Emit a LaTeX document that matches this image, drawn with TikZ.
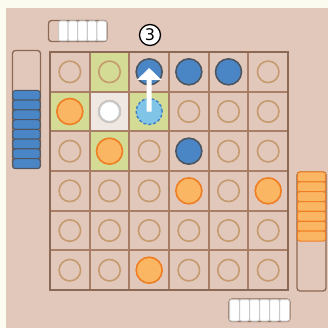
\documentclass[tikz,border=0pt]{standalone}
\usepackage{fontspec}
\usetikzlibrary{arrows.meta}
\definecolor{cream}{HTML}{FBFBEF}
\definecolor{panel}{HTML}{E2C8BB}
\definecolor{gridln}{HTML}{A97E67}
\definecolor{frame}{HTML}{8C6954}
\definecolor{ring}{HTML}{C49A6E}
\definecolor{moss}{HTML}{D3DB94}
\definecolor{pale}{HTML}{EFE8E2}
\definecolor{bluep}{HTML}{4A86C6}
\definecolor{slate}{HTML}{4D5560}
\definecolor{orangep}{HTML}{FBB664}
\definecolor{ember}{HTML}{EF7E22}
\definecolor{skyp}{HTML}{80C4E8}
\definecolor{skyln}{HTML}{3D80C8}
\definecolor{silver}{HTML}{C8C8C8}
\newfontfamily\labelfont{DejaVu Sans}

\begin{document}
\begin{tikzpicture}[x=1pt, y=-1pt,
  hole/.style={circle, draw=ring, line width=1.6pt, minimum size=21.5pt, inner sep=0pt},
  bluedisc/.style={circle, fill=bluep, draw=slate, line width=1.6pt, minimum size=26pt, inner sep=0pt},
  orangedisc/.style={circle, fill=orangep, draw=ember, line width=1.6pt, minimum size=26pt, inner sep=0pt},
  ghostdisc/.style={circle, fill=skyp, draw=skyln, line width=1.4pt, dash pattern=on 3pt off 2pt, minimum size=26pt, inner sep=0pt},
  whitedisc/.style={circle, fill=white, draw=silver, line width=2pt, minimum size=21pt, inner sep=0pt},
  tray/.style={draw=frame, line width=1.3pt, rounded corners=3pt, fill=panel},
  bluebar/.style={draw=slate, fill=bluep, line width=1pt, rounded corners=2.5pt},
  orangebar/.style={draw=ember, fill=orangep, line width=1pt, rounded corners=2.5pt},
  whitebar/.style={draw=silver, fill=white, line width=1pt, rounded corners=2pt}]
  % backdrop
  \fill[cream] (0,0) rectangle (328,328);
  \fill[panel] (6,8) rectangle (328,328);
  % cell centres
  \foreach \r in {0,...,5}
    \foreach \c in {0,...,5}
      \coordinate (c\r\c) at ({50+39.67*(\c+0.5)},{52+39.67*(\r+0.5)});
  % highlighted cells
  \foreach \cell in {c01,c10,c12,c21}
    \fill[moss] (\cell) +(-19.83,-19.83) rectangle +(19.83,19.83);
  \fill[pale] (c11) +(-19.83,-19.83) rectangle +(19.83,19.83);
  % board lines
  \foreach \i in {1,...,5} {
    \draw[gridln, line width=2pt] ({50+39.67*\i},52) -- ({50+39.67*\i},290);
    \draw[gridln, line width=2pt] (50,{52+39.67*\i}) -- (288,{52+39.67*\i});
  }
  \draw[frame, line width=2.8pt] (50,52) rectangle (288,290);
  % empty points
  \foreach \r in {0,...,5}
    \foreach \c in {0,...,5}
      \node[hole] (h\r\c) at (c\r\c) {};
  % pieces on the board
  \node[bluedisc] (b02) at (c02) {};
  \node[bluedisc] (b03) at (c03) {};
  \node[bluedisc] (b04) at (c04) {};
  \node[bluedisc] (b23) at (c23) {};
  \node[orangedisc] (o10) at (c10) {};
  \node[orangedisc] (o21) at (c21) {};
  \node[orangedisc] (o33) at (c33) {};
  \node[orangedisc] (o35) at (c35) {};
  \node[orangedisc] (o52) at (c52) {};
  \node[whitedisc] (w11) at (c11) {};
  \node[ghostdisc] (g12) at (c12) {};
  % move arrow
  \coordinate (tip) at (149.2,68);
  \draw[white, line width=5pt, -{Triangle[width=24pt,length=12pt]}] (g12.center) -- (tip);
  % move number
  \node[circle, draw=black, fill=white, line width=1.3pt, minimum size=21pt, inner sep=0pt,
        font=\labelfont\fontsize{16}{16}\selectfont] (turn) at (150,35) {3};
  % trays
  \draw[tray] (48.5,20.5) rectangle (107,41.5);
  \foreach \k in {0,...,4}
    \draw[whitebar] ({58.5+9.6*\k},21) rectangle ({58.5+9.6*(\k+1)},41);
  \draw[tray] (229,299) rectangle (290,321.5);
  \foreach \k in {0,...,5}
    \draw[whitebar] ({229.5+10*\k},299.5) rectangle ({229.5+10*(\k+1)},321);
  \draw[tray] (12.5,50.5) rectangle (40.5,168.5);
  \foreach \k in {0,...,7}
    \draw[bluebar] (12.8,{90.5+9.75*\k}) rectangle (40.2,{90.5+9.75*(\k+1)});
  \draw[tray] (297,172) rectangle (326,291);
  \foreach \k in {0,...,6}
    \draw[orangebar] (297.3,{172+9.86*\k}) rectangle (325.7,{172+9.86*(\k+1)});
\end{tikzpicture}
\end{document}
